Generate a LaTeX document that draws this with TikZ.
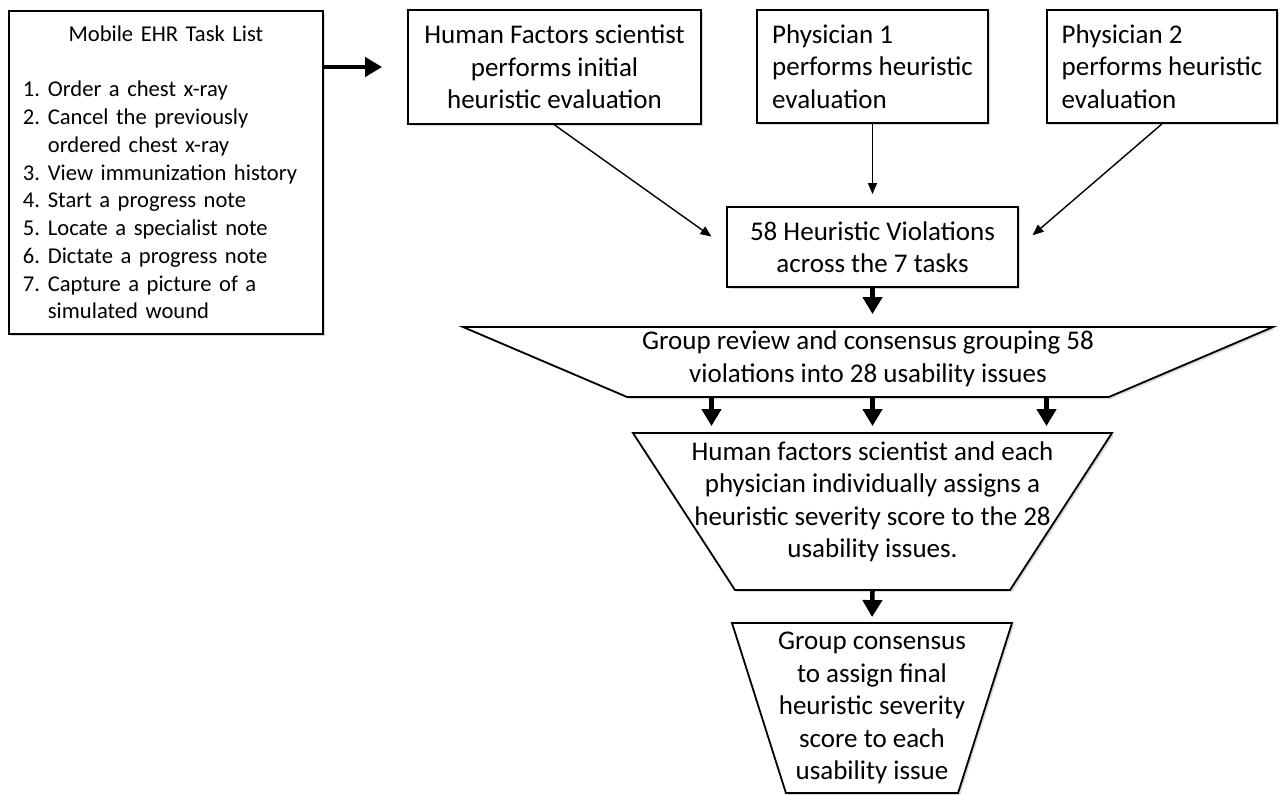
\documentclass[tikz,border=0pt]{standalone}
\usepackage{fontspec}
\setmainfont{Carlito}
\usetikzlibrary{arrows.meta,shapes.geometric,shadows}

\newcommand{\tsk}[1]{\makebox[25pt][l]{#1}}

\tikzset{
  stepbox/.style={draw, line width=1.8pt, fill=white, inner sep=0pt,
    drop shadow={shadow xshift=2pt, shadow yshift=-2pt, opacity=0.3},
    font=\fontsize{27}{32.5}\selectfont},
  funnel/.style={stepbox, trapezium, shape border rotate=180, trapezium stretches body=true},
  funneltext/.style={font=\fontsize{27}{32.5}\selectfont, align=center, inner sep=0pt},
  bigarrow/.style={line width=4.5pt, -{Triangle[length=17pt,width=19pt]}},
  thinarrow/.style={line width=1.4pt, -{Triangle[length=11pt,width=9pt]}}
}

\begin{document}
\begin{tikzpicture}[x=1pt, y=-1pt]
        \useasboundingbox (0,0) rectangle (1280,795);

        \node[stepbox, anchor=north west, font=\fontsize{22.6}{27.75}\selectfont,
              text width=286pt, inner xsep=14pt, minimum height=323pt] (tasks) at (8,10)
          {{\centering Mobile EHR Task List\par}
           \vspace{27.75pt}\raggedright
           \tsk{1.}Order a chest x-ray\\
           \tsk{2.}Cancel the previously\\
           \tsk{}ordered chest x-ray\\
           \tsk{3.}View immunization history\\
           \tsk{4.}Start a progress note\\
           \tsk{5.}Locate a specialist note\\
           \tsk{6.}Dictate a progress note\\
           \tsk{7.}Capture a picture of a\\
           \tsk{}simulated wound};

        \node[stepbox, align=center, minimum width=293pt, minimum height=114pt] (hf) at (554.5,67)
          {Human Factors scientist\\performs initial\\heuristic evaluation};
        \node[stepbox, align=left, minimum width=231pt, minimum height=113pt] (p1) at (872.5,66.5)
          {Physician 1\\performs heuristic\\evaluation};
        \node[stepbox, align=left, minimum width=230pt, minimum height=113pt] (p2) at (1162,66.5)
          {Physician 2\\performs heuristic\\evaluation};

        \node[stepbox, align=center, minimum width=291pt, minimum height=80pt] (viol) at (872.5,247)
          {58 Heuristic Violations\\across the 7 tasks};

        \node[funnel, trapezium angle=23.1, minimum width=810pt] (group) at (868,362) {\rule{0pt}{70pt}};
        \node[funneltext] (grouptxt) at ([yshift=3pt]group.center)
          {Group review and consensus grouping 58\\violations into 28 usability issues};

        \node[funnel, trapezium angle=57, minimum width=479pt] (assign) at (872.5,511.5) {\rule{0pt}{157pt}};
        \node[funneltext] (assigntxt) at ([yshift=9.5pt]assign.center)
          {Human factors scientist and each\\physician individually assigns a\\heuristic severity score to the 28\\usability issues.};

        \node[funnel, trapezium angle=72.4, minimum width=280pt] (final) at (872,708) {\rule{0pt}{170pt}};
        \node[funneltext] (finaltxt) at (final.center)
          {Group consensus\\to assign final\\heuristic severity\\score to each\\usability issue};

        \draw [bigarrow] (tasks.east |- hf.west) -- (hf.west) [shorten >=25pt];
        \draw [thinarrow, shorten >=18pt] (hf.south) -- (viol.west);
        \draw [thinarrow, shorten >=12pt] (p1.south) -- (viol.north);
        \draw [thinarrow, shorten >=18pt] (p2.south) -- (viol.east);
        \draw [bigarrow, shorten >=12pt] (viol.south) -- (viol.south |- group.north);
        \foreach \dx in {-161,0,174}
          \draw [bigarrow, shorten >=6pt] ([xshift=\dx pt]assign.north |- group.south) -- ([xshift=\dx pt]assign.north);
        \draw [bigarrow, shorten >=5pt] (assign.south) -- (final.north);
\end{tikzpicture}
\end{document}
